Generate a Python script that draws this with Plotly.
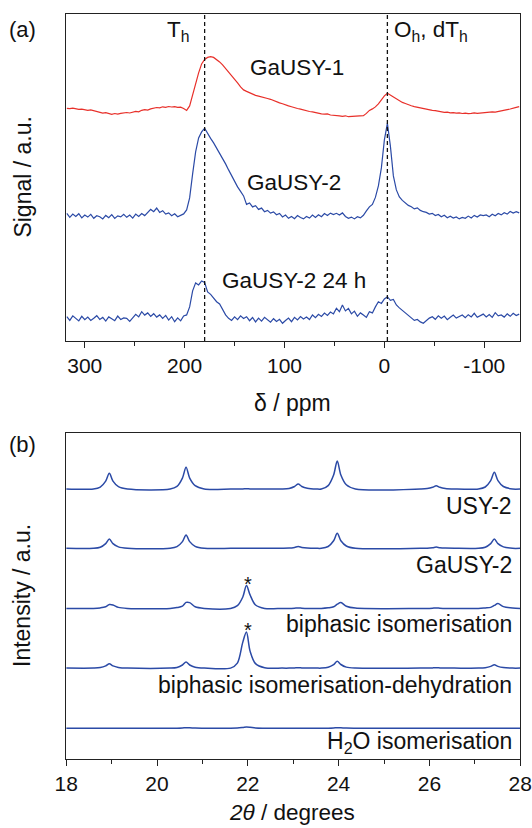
import plotly.graph_objects as go

# ---------------- (a) NMR data ----------------
PPM = list(range(318, -136, -3))  # sampling grid, 152 points

GAUSY1 = [
    2.6, 2.2, 2.8, 1.9, 1.5, 1.8, 1.0, 0.6, 1.1, 0.2,
    -0.8, -1.5, -2.2, -1.8, -3.0, -3.4, -2.6, -3.2, -2.4, -2.0,
    -1.6, -2.1, -0.9, -0.4, -0.9, 0.6, 1.2, 0.8, 2.0, 2.6,
    3.4, 3.0, 4.1, 3.6, 4.4, 3.9, 4.2, 3.5, 3.8, 2.4,
    0.5, 5.0, 16.0, 28.0, 38.0, 47.0, 51.5, 53.5, 54.2, 53.5,
    51.5, 49.0, 46.0, 42.5, 39.5, 36.0, 32.0, 28.0, 24.0, 21.0,
    19.5, 18.0, 16.8, 15.5, 14.8, 14.2, 13.5, 12.4, 11.6, 10.2,
    9.2, 8.0, 7.2, 5.8, 5.0, 4.1, 3.6, 2.4, 1.8, 0.9,
    0.2, -0.6, -0.9, -1.8, -2.0, -2.9, -3.3, -3.0, -4.1, -4.4,
    -4.0, -5.0, -5.4, -4.9, -5.8, -5.6, -5.9, -5.2, -5.6, -4.8,
    -2.5, 0.5, 2.0, 4.0, 7.0, 11.0, 15.0, 17.6, 15.8, 13.5,
    11.5, 9.8, 8.5, 7.4, 6.0, 5.2, 4.3, 3.6, 3.2, 2.4,
    2.0, 1.2, 0.6, 0.2, -0.5, -0.9, -1.4, -1.2, -2.0, -1.8,
    -2.3, -2.0, -2.6, -2.2, -2.8, -2.4, -1.9, -2.5, -2.1, -2.3,
    -1.8, -1.6, -1.0, -1.2, -0.4, 0.1, 0.6, 1.3, 1.9, 3.0,
    3.6, 4.2,
]

GAUSY2 = [
    2.6, -1.5, 1.8, -0.5, 2.2, -2.0, 0.8, -1.2, 1.5, -2.4,
    0.2, -0.8, -3.0, 0.5, -1.8, 1.2, -2.5, 0.0, -1.0, 1.6,
    -1.4, 0.9, -2.2, 1.8, -0.6, 2.4, 0.3, 3.8, 6.5, 4.2,
    7.9, 3.5, 5.2, 1.8, 3.0, 0.2, 2.1, -0.8, 0.9, 2.0,
    6.0, 18.0, 42.0, 64.0, 78.0, 84.0, 87.6, 82.0, 77.5, 73.0,
    68.0, 62.5, 57.0, 52.0, 46.0, 40.0, 34.5, 29.0, 24.5, 20.0,
    11.5, 13.0, 9.0, 10.2, 6.5, 7.8, 4.2, 5.5, 2.8, 4.0,
    1.2, 2.5, -1.0, 0.8, -2.4, -0.5, -2.8, 0.4, -1.6, -3.0,
    -0.6, -2.2, 0.9, -1.5, 1.2, -0.8, 2.4, 0.5, 2.8, 1.4,
    2.6, 0.8, 3.0, -0.6, -2.4, -1.2, -3.0, -0.8, -2.0, 0.6,
    5.0, 9.0, 11.5, 18.5, 30.0, 48.0, 76.0, 92.6, 70.0, 40.0,
    26.0, 19.0, 15.5, 13.0, 10.5, 9.2, 7.0, 8.0, 5.5, 4.2,
    3.5, 1.8, 2.6, 0.4, 1.5, -0.8, 0.6, -1.8, -0.4, -2.2,
    -1.0, -3.0, -1.6, -2.4, -0.2, -2.0, 0.5, -1.2, 1.0, 0.2,
    0.9, -0.8, 1.6, 0.2, 2.4, 1.0, 3.2, 1.8, 4.5, 2.8,
    4.2, 3.0,
]

GAUSY2_24H = [
    2.2, -1.5, 3.0, 0.4, -2.0, 2.6, -0.8, 1.8, -1.6, 0.6,
    3.2, -0.5, 1.5, -2.2, 2.0, 0.2, -1.8, 2.8, -0.6, 1.0,
    0.6, -2.4, 1.2, 4.5, 2.0, 7.2, 3.8, 6.0, 2.4, 5.2,
    1.8, 4.0, 0.5, 3.5, -1.2, 2.2, -2.8, 1.0, -2.0, 3.0,
    4.0, 12.0, 28.0, 36.0, 34.0, 38.0, 36.5, 27.0, 24.5, 20.5,
    17.2, 15.0, 9.0, 4.0, 0.6, -1.5, 2.0, -0.8, 3.0, 0.5,
    2.2, -1.8, 1.4, -3.0, 0.8, -2.2, 1.6, -1.0, -3.2, 0.2,
    -2.6, -0.4, -4.4, -1.6, 0.8, -2.8, 1.6, -1.0, 2.4, 0.0,
    1.8, -0.6, 3.9, 1.2, 4.6, 2.5, 5.8, 3.4, 6.8, 5.0,
    10.6, 7.2, 13.9, 8.0, 10.5, 5.0, 7.8, 2.6, 6.0, 3.9,
    1.5, 7.2, 6.0, 12.0, 17.2, 15.5, 20.0, 22.2, 18.5, 19.5,
    13.9, 11.0, 8.5, 6.0, 3.9, 1.0, -1.5, -0.6, -3.0, -4.4,
    -1.5, 0.8, 2.2, -0.4, 3.0, 0.6, 2.8, -0.8, 1.6, 3.9,
    0.8, 2.6, 3.9, 1.2, 4.2, 2.0, 5.6, 1.6, 3.0, 4.8,
    2.0, 4.4, 1.5, 6.2, 3.0, 4.0, 1.8, 5.0, 2.6, 5.6,
    3.4, 4.8,
]

NMR_NAMES = ["GaUSY-1", "GaUSY-2", "GaUSY-2 24 h"]
NMR_SERIES = [GAUSY1, GAUSY2, GAUSY2_24H]
NMR_COLORS = ["#e8302a", "#2b4aa6", "#2b4aa6"]
NMR_OFFSETS = [230, 125, 22]
DASH_PPM = [180, -3]
NMR_TICKS = [300, 200, 100, 0, -100]
NMR_TICKTEXT = ["300", "200", "100", "0", "-100"]
NMR_MINOR = [250, 150, 50, -50]

# ---------------- (b) XRD data ----------------
TWO_THETA = [
    18.0,
    18.6, 18.75, 18.87, 18.95, 19.03, 19.15, 19.35,
    20.29, 20.44, 20.56, 20.64, 20.72, 20.84, 21.04,
    21.62, 21.77, 21.89, 21.97, 22.05, 22.17, 22.37,
    22.76, 22.91, 23.03, 23.11, 23.19, 23.31, 23.51,
    23.62, 23.77, 23.89, 23.97, 24.05, 24.17, 24.37,
    25.8, 25.95, 26.07, 26.15, 26.23, 26.35, 26.55,
    27.08, 27.23, 27.35, 27.43, 27.51, 27.63, 27.83,
    28.0,
]
USY2 = [
    0,
    0, 1.9, 7.9, 15.7, 7.9, 2.4, 0,
    0, 2.6, 10.9, 21.7, 10.9, 3.3, 0,
    0, 0, 0, 0.3, 0, 0, 0,
    0, 0.6, 2.5, 5.0, 2.5, 0.8, 0,
    0, 3.4, 14.0, 28.0, 14.0, 4.2, 0,
    0, 0.4, 1.7, 3.3, 1.7, 0.5, 0,
    0, 2.0, 8.4, 16.7, 8.4, 2.5, 0,
    0,
]
GAUSY2_XRD = [
    0,
    0, 1.1, 4.7, 9.3, 4.7, 1.4, 0,
    0, 1.6, 6.7, 13.3, 6.7, 2.0, 0,
    0, 0, 0, 0, 0, 0, 0,
    0, 0.2, 0.9, 1.7, 0.9, 0.3, 0,
    0, 1.8, 7.5, 15.0, 7.5, 2.3, 0,
    0, 0.1, 0.6, 1.2, 0.6, 0.2, 0,
    0, 1.1, 4.7, 9.3, 4.7, 1.4, 0,
    0,
]
BI_ISO = [
    0,
    0, 0.5, 1.6, 3.8, 3.4, 1.0, 0,
    0, 0.8, 2.2, 6.0, 5.8, 1.6, 0,
    0, 2.7, 11.4, 22.8, 13.5, 3.4, 0,
    0, 0, 0.2, 0.4, 0.2, 0, 0,
    0, 0.6, 1.6, 4.2, 5.8, 2.2, 0.3,
    0, 0, 0.2, 0.4, 0.2, 0, 0,
    0, 0.5, 1.0, 3.0, 4.8, 1.8, 0.3,
    0,
]
BI_ISO_DEH = [
    0,
    0, 0.5, 2.2, 4.4, 2.2, 0.7, 0,
    0, 0.7, 3.1, 6.1, 3.1, 0.9, 0,
    0, 5.0, 26.0, 36.0, 17.0, 4.5, 0.4,
    0, 0, 0.2, 0.4, 0.2, 0, 0,
    0, 0.8, 3.4, 6.8, 3.6, 1.0, 0,
    0, 0, 0.2, 0.3, 0.2, 0, 0,
    0, 0.4, 1.7, 3.4, 1.7, 0.5, 0,
    0,
]
H2O_ISO = [
    0,
    0, 0, 0, 0, 0, 0, 0,
    0, 0, 0.2, 0.5, 0.5, 0.1, 0,
    0, 0.2, 0.8, 1.3, 1.0, 0.2, 0,
    0, 0, 0, 0, 0, 0, 0,
    0, 0, 0.2, 0.5, 0.4, 0.1, 0,
    0, 0, 0, 0, 0, 0, 0,
    0, 0, 0, 0, 0, 0, 0,
    0,
]
XRD_NAMES = ["USY-2", "GaUSY-2", "biphasic isomerisation",
             "biphasic isomerisation-dehydration", "H<sub>2</sub>O isomerisation"]
XRD_SERIES = [USY2, GAUSY2_XRD, BI_ISO, BI_ISO_DEH, H2O_ISO]
XRD_OFFSETS = [269.7, 210.4, 150.3, 90.6, 30.5]
XRD_LABEL_Y = [252.2, 193.4, 135.1, 73.7, 15.9]
STAR_X = [22.0, 22.0]
STAR_Y = [174.5, 129.0]
XRD_TICKS = [18, 20, 22, 24, 26, 28]
XRD_MINOR = [19, 21, 23, 25, 27]

BLUE = "#2b4aa6"
FONT = "Liberation Sans, Arial, sans-serif"
W, H = 532, 828

fig = go.Figure()

for name, ys, col, off in zip(NMR_NAMES, NMR_SERIES, NMR_COLORS, NMR_OFFSETS):
    fig.add_trace(go.Scatter(
        x=PPM, y=[v + off for v in ys], mode="lines", name=name,
        line=dict(color=col, width=1.2), xaxis="x", yaxis="y", showlegend=False))

for name, ys, off in zip(XRD_NAMES, XRD_SERIES, XRD_OFFSETS):
    fig.add_trace(go.Scatter(
        x=TWO_THETA, y=[v + off for v in ys], mode="lines", name=name,
        line=dict(color=BLUE, width=1.5, shape="spline", smoothing=0.9),
        xaxis="x2", yaxis="y2", showlegend=False))

XDOM = [66.2 / W, 520.2 / W]
frame = dict(showline=True, linecolor="#222", linewidth=1.3, mirror=True,
             showgrid=False, zeroline=False, automargin=False)

fig.update_layout(
    width=W, height=H, margin=dict(l=0, r=0, t=0, b=0, autoexpand=False),
    paper_bgcolor="white", plot_bgcolor="white",
    font=dict(family=FONT, size=21, color="#111"),
    xaxis=dict(domain=XDOM, range=[318.6, -136], anchor="y",
               tickmode="array", tickvals=NMR_TICKS, ticktext=NMR_TICKTEXT,
               ticks="outside", ticklen=6, tickwidth=1.3, tickcolor="#222",
               minor=dict(tickvals=NMR_MINOR, ticks="outside", ticklen=4,
                          tickwidth=1.3, tickcolor="#222"),
               tickfont=dict(size=21), **frame),
    yaxis=dict(domain=[1 - 340.9 / H, 1 - 14.3 / H], range=[0, 326.6], anchor="x",
               showticklabels=False, ticks="", **frame),
    xaxis2=dict(domain=XDOM, range=[18, 28], anchor="y2",
                tickmode="array", tickvals=XRD_TICKS,
                ticks="outside", ticklen=6, tickwidth=1.3, tickcolor="#222",
                minor=dict(tickvals=XRD_MINOR, ticks="outside", ticklen=4,
                           tickwidth=1.3, tickcolor="#222"),
                tickfont=dict(size=21), **frame),
    yaxis2=dict(domain=[1 - 758.7 / H, 1 - 432.9 / H], range=[0, 325.8], anchor="x2",
                showticklabels=False, ticks="", **frame),
)

for xv in DASH_PPM:
    fig.add_shape(type="line", xref="x", yref="y domain", x0=xv, x1=xv, y0=0, y1=1,
                  line=dict(color="#111", width=1.3, dash="4px,3px"))

ann = []
# panel (a) labels
ann += [
    dict(x=87, y=273.9, text="GaUSY-1", xanchor="center"),
    dict(x=91, y=158.3, text="GaUSY-2", xanchor="center"),
    dict(x=91, y=60.4, text="GaUSY-2 24 h", xanchor="center"),
    dict(x=192.6, y=310.4, text="T<sub>h</sub>", xanchor="right"),
    dict(x=-7.7, y=310.4, text="O<sub>h</sub>, dT<sub>h</sub>", xanchor="left"),
]
for a in ann:
    a.update(xref="x", yref="y", showarrow=False, yanchor="middle",
             font=dict(size=22.5))
# panel (b) labels
for name, yv in zip(XRD_NAMES, XRD_LABEL_Y):
    ann.append(dict(x=27.86, y=yv, xref="x2", yref="y2", text=name, showarrow=False,
                    xanchor="right", yanchor="middle", font=dict(size=23)))
for sx, sy in zip(STAR_X, STAR_Y):
    ann.append(dict(x=sx, y=sy, xref="x2", yref="y2", text="*", showarrow=False,
                    xanchor="center", yanchor="middle", font=dict(size=20)))
# axis titles and panel letters
paper_ann = [
    dict(x=292, y=402.7, text="δ / ppm", font=dict(size=23)),
    dict(x=292, y=812, text="<i>2θ</i> / degrees", font=dict(size=22.5)),
    dict(x=23, y=177.6, text="Signal / a.u.", textangle=-90, font=dict(size=23)),
    dict(x=22, y=596, text="Intensity / a.u.", textangle=-90, font=dict(size=23)),
    dict(x=22, y=29, text="(a)", font=dict(size=22)),
    dict(x=22, y=444, text="(b)", font=dict(size=22)),
]
for a in paper_ann:
    a.update(x=a["x"] / W, y=1 - a["y"] / H, xref="paper", yref="paper",
             showarrow=False, xanchor="center", yanchor="middle")
    ann.append(a)
fig.update_layout(annotations=ann)

fig.write_html("out.html")
